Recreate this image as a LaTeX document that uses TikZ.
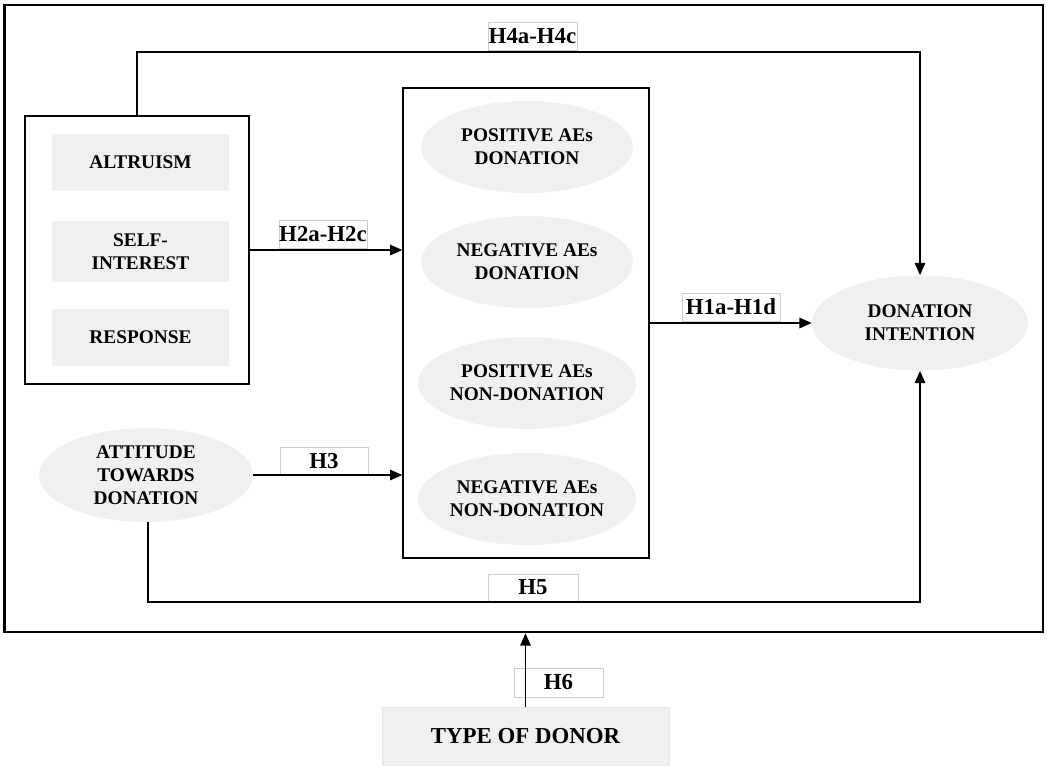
\documentclass[tikz,border=0pt]{standalone}
\usepackage{fontspec}
\setmainfont{Liberation Serif}
\usetikzlibrary{shapes.geometric,arrows.meta}
\tikzset{
	txt/.style = {align=center, font=\bfseries\fontsize{11}{13}\selectfont},
	item/.style = {txt, fill=black!6, minimum width=3.54cm, minimum height=1.14cm, inner sep=0pt},
	oval/.style = {txt, ellipse, fill=black!6, minimum width=4.24cm, minimum height=1.84cm, inner sep=0pt},
	hyp/.style = {draw=black!20, fill=white, line width=0.4pt, minimum width=1.78cm, minimum height=0.56cm, inner sep=0pt, font=\bfseries\fontsize{13}{15}\selectfont},
	wire/.style = {line width=0.8pt},
	arr/.style = {wire, -{Triangle[length=7pt,width=6pt]}}
}
\begin{document}
\begin{tikzpicture}[x=0.02cm, y=-0.02cm]
	\useasboundingbox (0,0) rectangle (1047,765);
	% outer frame
	\node [draw, line width=1.6pt, minimum width=20.78cm, minimum height=12.54cm, inner sep=0pt] (frame) at (523.5,318.5) {};
	% motives
	\node [draw, wire, minimum width=4.48cm, minimum height=5.36cm, inner sep=0pt] (grp) at (137,250) {};
	\node [item] (alt) at (140.5,162.5) {ALTRUISM};
	\node [item, minimum height=1.22cm] (self) at (140.5,251.5) {SELF-\\INTEREST};
	\node [item] (resp) at (140.5,337.5) {RESPONSE};
	% anticipated emotions
	\node [draw, wire, minimum width=4.92cm, minimum height=9.4cm, inner sep=0pt] (mid) at (526,323) {};
	\node [oval] (posd) at (527,147) {POSITIVE AEs\\DONATION};
	\node [oval] (negd) at (527,262) {NEGATIVE AEs\\DONATION};
	\node [oval] (posn) at (527,383) {POSITIVE AEs\\NON-DONATION};
	\node [oval] (negn) at (527,499) {NEGATIVE AEs\\NON-DONATION};
	% outcome and attitude
	\node [oval, minimum width=4.32cm, minimum height=1.9cm] (intent) at (920,323) {DONATION\\INTENTION};
	\node [oval, minimum width=4.28cm, minimum height=1.88cm] (att) at (146,475) {ATTITUDE\\TOWARDS\\DONATION};
	% moderator
	\node [txt, fill=black!6, draw=black!10, minimum width=5.74cm, minimum height=1.16cm, inner sep=0pt, font=\bfseries\fontsize{13}{15}\selectfont] (donor) at (525.5,736) {TYPE OF DONOR};
	% hypotheses
	\node [hyp] (h4) at (532.5,36) {H4a-H4c};
	\node [hyp, minimum width=1.76cm] (h2) at (323,234) {H2a-H2c};
	\node [hyp, minimum width=1.96cm] (h1) at (731,307) {H1a-H1d};
	\node [hyp, minimum width=1.76cm] (h3) at (324,461) {H3};
	\node [hyp, minimum width=1.8cm, minimum height=0.54cm] (h5) at (533,587.5) {H5};
	\node [hyp, minimum height=0.58cm] (h6) at (558.5,682.5) {H6};
	\coordinate (top) at (137,52);
	\coordinate (bot) at (148,602);
	% paths
	\draw [arr] (grp.north -| top) -- (top) -| (intent.north);
	\draw [arr] (grp.east) -- (grp.east -| mid.west);
	\draw [arr] (mid.east) -- (intent.west);
	\draw [arr] (att.east) -- (att.east -| mid.west);
	\draw [arr] (att.south -| bot) -- (bot) -| (intent.south);
	\draw [arr] (donor.north) -- (donor.north |- frame.south);
\end{tikzpicture}
\end{document}
